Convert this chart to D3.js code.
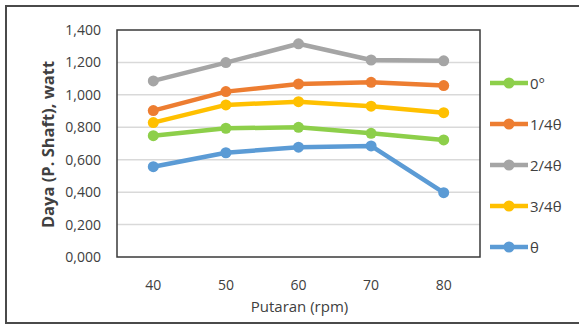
<!DOCTYPE html>
<html>
<head>
<meta charset="utf-8">
<script src="https://cdn.jsdelivr.net/npm/d3@7"></script>
<style>
  body { margin: 0; background: #fff; }
  .tick text { font-family: 'Open Sans', sans-serif; font-size: 14px; fill: #404040; }
  .label { font-family: 'Open Sans', sans-serif; fill: #404040; }
</style>
</head>
<body>
<svg class="chart" width="579" height="327"></svg>
<script>
const rpm = [40, 50, 60, 70, 80];
const seriesNames = ['0°', '1/4θ', '2/4θ', '3/4θ', 'θ'];
const seriesColors = ['#8dcf4a', '#ed7d31', '#a5a5a5', '#ffc000', '#5b9bd5'];
const zeroDeg = [0.748, 0.794, 0.800, 0.763, 0.722];
const quarterTheta = [0.903, 1.020, 1.067, 1.077, 1.057];
const halfTheta = [1.086, 1.199, 1.315, 1.215, 1.210];
const threeQuarterTheta = [0.829, 0.938, 0.958, 0.930, 0.890];
const fullTheta = [0.557, 0.643, 0.677, 0.685, 0.397];
const yTicks = [0, 0.2, 0.4, 0.6, 0.8, 1.0, 1.2, 1.4];

const seriesValues = [zeroDeg, quarterTheta, halfTheta, threeQuarterTheta, fullTheta];
const drawOrder = [2, 1, 3, 0, 4];

const svg = d3.select('.chart');
const plot = { left: 117, top: 30, right: 480, bottom: 257 };

// outer frame
svg.append('rect')
  .attr('x', 6).attr('y', 6).attr('width', 580).attr('height', 317)
  .attr('fill', 'none').attr('stroke', '#4a4a4a').attr('stroke-width', 2);

const x = d3.scaleBand().domain(rpm).range([plot.left, plot.right]);
const y = d3.scaleLinear().domain([0, 1.4]).range([plot.bottom, plot.top]);
const fmt = v => d3.format('.3f')(v).replace('.', ',');

// gridlines
svg.append('g')
  .selectAll('line')
  .data(yTicks.slice(1, -1))
  .join('line')
  .attr('x1', plot.left).attr('x2', plot.right)
  .attr('y1', d => y(d)).attr('y2', d => y(d))
  .attr('stroke', '#d9d9d9').attr('stroke-width', 1.5);

// plot frame
svg.append('rect')
  .attr('x', plot.left).attr('y', plot.top)
  .attr('width', plot.right - plot.left).attr('height', plot.bottom - plot.top)
  .attr('fill', 'none').attr('stroke', '#3a3a3a').attr('stroke-width', 1.5);

const yAxis = d3.axisLeft(y).tickValues(yTicks).tickFormat(fmt).tickSize(0).tickPadding(16);
svg.append('g').attr('transform', `translate(${plot.left},0)`).call(yAxis)
  .call(g => g.select('.domain').remove());

const xAxis = d3.axisBottom(x).tickSize(0).tickPadding(23);
svg.append('g').attr('transform', `translate(0,${plot.bottom})`).call(xAxis)
  .call(g => g.select('.domain').remove());

svg.append('text').classed('label', true)
  .attr('x', (plot.left + plot.right) / 2 + 1).attr('y', 312)
  .attr('text-anchor', 'middle').attr('font-size', 15)
  .text('Putaran (rpm)');

svg.append('text').classed('label', true)
  .attr('transform', `translate(54,${(plot.top + plot.bottom) / 2 + 1}) rotate(-90)`)
  .attr('text-anchor', 'middle').attr('font-size', 16.5).attr('font-weight', 'bold')
  .text('Daya (P. Shaft), watt');

const line = d3.line().x((d, i) => x(rpm[i]) + x.bandwidth() / 2).y(d => y(d));

drawOrder.forEach((s) => {
  const g = svg.append('g');
  g.append('path')
    .datum(seriesValues[s])
    .attr('d', line)
    .attr('fill', 'none').attr('stroke', seriesColors[s])
    .attr('stroke-width', 4.5).attr('stroke-linejoin', 'round');
  g.selectAll('circle')
    .data(seriesValues[s])
    .join('circle')
    .attr('cx', (d, i) => x(rpm[i]) + x.bandwidth() / 2)
    .attr('cy', d => y(d))
    .attr('r', 5.5)
    .attr('fill', seriesColors[s]);
});

// legend
const legend = svg.append('g').attr('transform', 'translate(490,83)');
seriesNames.forEach((name, i) => {
  const item = legend.append('g').attr('transform', `translate(0,${i * 41})`);
  item.append('line').attr('x1', 0).attr('x2', 38).attr('y1', 0).attr('y2', 0)
    .attr('stroke', seriesColors[i]).attr('stroke-width', 4.5);
  item.append('circle').attr('cx', 19).attr('cy', 0).attr('r', 5.5).attr('fill', seriesColors[i]);
  item.append('text').classed('label', true)
    .attr('x', 40).attr('y', 5.5).attr('font-size', 15)
    .text(name);
});
</script>
</body>
</html>
